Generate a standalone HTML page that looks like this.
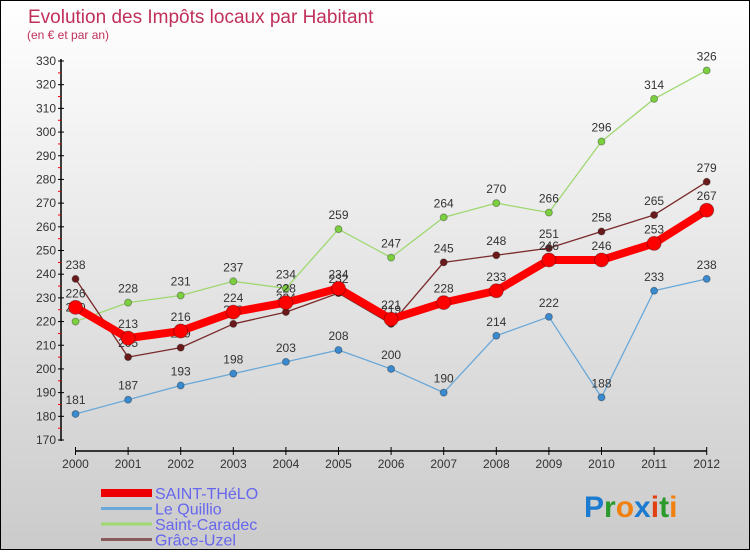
<!DOCTYPE html>
<html><head><meta charset="utf-8"><style>
html,body{margin:0;padding:0}
body{width:750px;height:550px;overflow:hidden;font-family:"Liberation Sans",sans-serif}
#wrap{position:relative;width:748px;height:548px;border:1px solid #000;background:linear-gradient(#ffffff,#cbcbcb)}
</style></head><body>
<div id="wrap">
<svg id="chart" width="748" height="548" font-family="Liberation Sans, sans-serif">
<text x="27" y="22" font-size="19" fill="#c0305a">Evolution des Impôts locaux par Habitant</text>
<text x="26" y="38" font-size="12" fill="#c0305a">(en € et par an)</text>
<g id="axes"></g>
<g id="series"></g>
<g id="legend"></g>
<text x="583" y="516" font-size="30" font-weight="bold"><tspan fill="#1a7bd0">P</tspan><tspan fill="#2a9a2a">r</tspan><tspan fill="#f08010">o</tspan><tspan fill="#1a7bd0">x</tspan><tspan fill="#e04010">i</tspan><tspan fill="#2a9a2a">t</tspan><tspan fill="#f08010">i</tspan></text>
</svg>
</div>
<script>
const years=["2000","2001","2002","2003","2004","2005","2006","2007","2008","2009","2010","2011","2012"];
const yTicks=[170,180,190,200,210,220,230,240,250,260,270,280,290,300,310,320,330];
const saintThelo=[226,213,216,224,228,234,221,228,233,246,246,253,267];
const leQuillio=[181,187,193,198,203,208,200,190,214,222,188,233,238];
const saintCaradec=[220,228,231,237,234,259,247,264,270,266,296,314,326];
const graceUzel=[238,205,209,219,224,232,219,245,248,251,258,265,279];
const seriesNames=["SAINT-THéLO","Le Quillio","Saint-Caradec","Grâce-Uzel"];
const NS="http://www.w3.org/2000/svg";
function xS(i){return 74.5+i*52.6;}
function yS(v){return 439-(v-170)*(379/160);}
function mk(tag,attrs,parent){const e=document.createElementNS(NS,tag);for(const k in attrs)e.setAttribute(k,attrs[k]);parent.appendChild(e);return e;}
const axes=document.getElementById('axes');
let yl=mk('line',{x1:60,y1:58,x2:60,y2:440,stroke:'#000','stroke-width':1.5},axes);


let xl=mk('line',{x1:74.5,y1:450,x2:706,y2:450,stroke:'#000','stroke-width':1.5},axes);


yTicks.forEach((v,k)=>{
  const y=yS(v);
  mk('line',{x1:57,y1:y,x2:63,y2:y,stroke:'#000'},axes);
  if(k<yTicks.length-1) mk('line',{x1:57,y1:y-11.8,x2:60,y2:y-11.8,stroke:'#e00'},axes);
  const t=mk('text',{x:55,y:y+4,'font-size':12,'text-anchor':'end',fill:'#333'},axes);
  t.textContent=v;
  
  
});
years.forEach((yr,i)=>{
  const x=xS(i);
  mk('line',{x1:x,y1:446,x2:x,y2:454,stroke:'#000'},axes);
  const t=mk('text',{x:x,y:467,'font-size':12,'text-anchor':'middle',fill:'#333'},axes);
  t.textContent=yr;
  
  
});
const sg=document.getElementById('series');
function drawSeries(data,color,w,r,name,dot){
  const g=mk('g',{},sg);
  
  
  const pts=data.map((v,i)=>xS(i)+','+yS(v)).join(' ');
  mk('polyline',{points:pts,fill:'none',stroke:color,'stroke-width':w,'stroke-linejoin':'round'},g);
  data.forEach((v,i)=>{
    const c=mk('circle',{cx:xS(i),cy:yS(v),r:r,fill:dot,stroke:'rgba(0,0,0,0.3)'},g);
    
    
    const t=mk('text',{x:xS(i),y:yS(v)-10,'font-size':12,'text-anchor':'middle',fill:'#333'},g);
    t.textContent=v;
    
    
  });
}
drawSeries(leQuillio,'#6aa8d8',1.3,3.5,'series-le-quillio','#3a8ad0');
drawSeries(saintCaradec,'#9ed870',1.3,3.5,'series-saint-caradec','#7cd040');
drawSeries(graceUzel,'#7a2a2a',1.3,3.5,'series-grace-uzel','#6a1a1a');
drawSeries(saintThelo,'#ff0000',8,7,'series-saint-thelo','#ff0000');
const lg=document.getElementById('legend');
const lcol=['#ee0000','#6aa8d8','#9ed870','#8a5a5a'];
const lw=[8,3,3,3];
seriesNames.forEach((n,k)=>{
  const y=492+k*15.5;
  const g=mk('g',{},lg);
  
  
  mk('line',{x1:100,y1:y,x2:151,y2:y,stroke:lcol[k],'stroke-width':lw[k]},g);
  const t=mk('text',{x:154,y:y+6,'font-size':16,fill:'#6666ee'},g);
  t.textContent=n;
});
</script>
</body></html>
